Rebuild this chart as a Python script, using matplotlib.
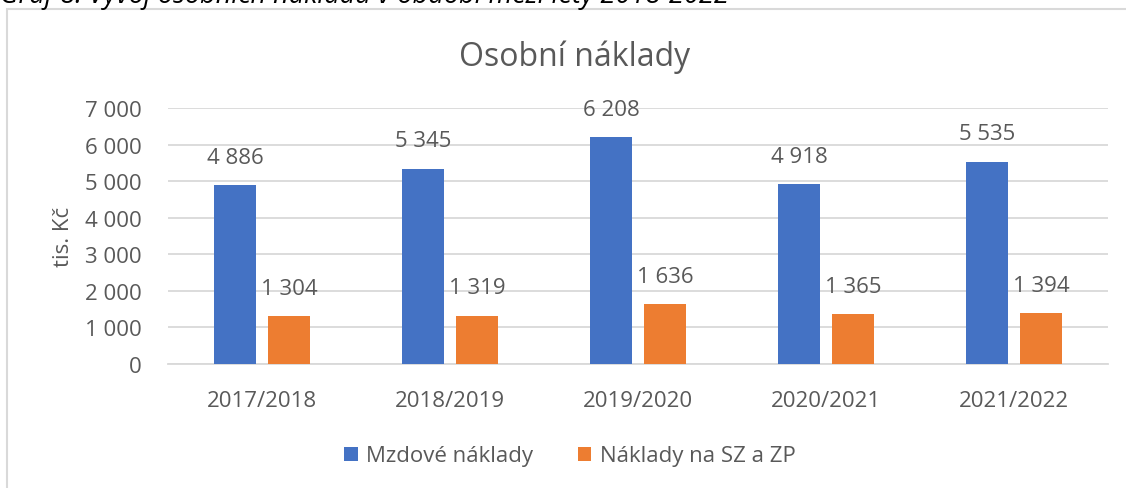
import numpy as np
import matplotlib
matplotlib.use("Agg")
import matplotlib.pyplot as plt
from matplotlib.patches import Rectangle

# data
roky = ["2017/2018", "2018/2019", "2019/2020", "2020/2021", "2021/2022"]
mzdove = [4886, 5345, 6208, 4918, 5535]
odvody = [1304, 1319, 1636, 1365, 1394]
nazvy = ["Mzdové náklady", "Náklady na SZ a ZP"]

plt.rcParams['font.family'] = ['Open Sans', 'DejaVu Sans']
txt = '#595959'
grid = '#d9d9d9'
fs = 16

def fmt(v):
    return f"{v:,.0f}".replace(",", " ")

fig = plt.figure(figsize=(11.26, 4.89), dpi=100)
ax = fig.add_axes([168/1126, 1-365/489, 940/1126, 256/489])

x = np.arange(len(roky))
w = 0.223
off = 0.144
b1 = ax.bar(x-off, mzdove, w, color='#4472c4', label=nazvy[0], zorder=3)
b2 = ax.bar(x+off, odvody, w, color='#ed7d31', label=nazvy[1], zorder=3)

for bars in (b1, b2):
    for r in bars:
        ax.annotate(fmt(r.get_height()), (r.get_x()+r.get_width()/2, r.get_height()),
                    xytext=(0, 20), textcoords='offset points', ha='center', va='center',
                    fontsize=fs, color=txt)

ax.set_xlim(-0.5, len(roky)-0.5)
ax.set_ylim(0, 7000)
ax.set_yticks(range(0, 7001, 1000))
ax.set_yticklabels([fmt(v) for v in range(0, 7001, 1000)])
ax.set_xticks(x)
ax.set_xticklabels(roky)
ax.tick_params(length=0, labelsize=fs, labelcolor=txt)
ax.tick_params(axis='y', pad=19)
ax.tick_params(axis='x', pad=19)
ax.grid(axis='y', color=grid, lw=1.3, zorder=0)
for s in ['top', 'right', 'left']:
    ax.spines[s].set_visible(False)
ax.spines['bottom'].set_color(grid)
ax.spines['bottom'].set_linewidth(1.3)
ax.set_ylabel("tis. Kč", fontsize=fs, color=txt, labelpad=8)

fig.text(575/1126, 1-57/489, "Osobní náklady", ha='center', va='center', fontsize=23, color=txt)

fig.legend(loc='center', bbox_to_anchor=(570/1126, 1-457/489), ncol=2, frameon=False,
           fontsize=fs, labelcolor=txt, handlelength=0.6, handleheight=0.6,
           handletextpad=0.4, columnspacing=2.0)

# frame of the chart object and cut-off caption above it
fig.patches.append(Rectangle((7/1126, -0.05), 1.2, 1-10/489+0.05, transform=fig.transFigure,
                             fill=False, edgecolor=grid, lw=1.5))
fig.text(0, 1+5/489, "Graf 8: Vývoj osobních nákladů v období mezi lety 2018-2022",
         ha='left', va='center', fontsize=19.5, style='italic', color='black')

fig.savefig("out.png", dpi=100)
